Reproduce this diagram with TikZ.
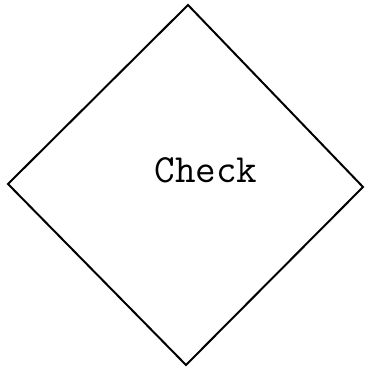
\documentclass[tikz,border=0pt]{standalone}
\usepackage{fontspec}
\usepackage{tikz}

\begin{document}
\begin{tikzpicture}[x=1pt,y=1pt,every node/.style={font=\ttfamily\fontsize{40}{44}\selectfont}]
  \useasboundingbox (0,0) rectangle (367,369);
  \coordinate (top) at (188,364);
  \coordinate (right) at (363,182);
  \coordinate (bottom) at (186,4);
  \coordinate (left) at (8,185);
  \draw[line width=2pt, line join=miter] (top) -- (right) -- (bottom) -- (left) -- cycle;
  \node (check) at (206,199) {Check};
\end{tikzpicture}
\end{document}
